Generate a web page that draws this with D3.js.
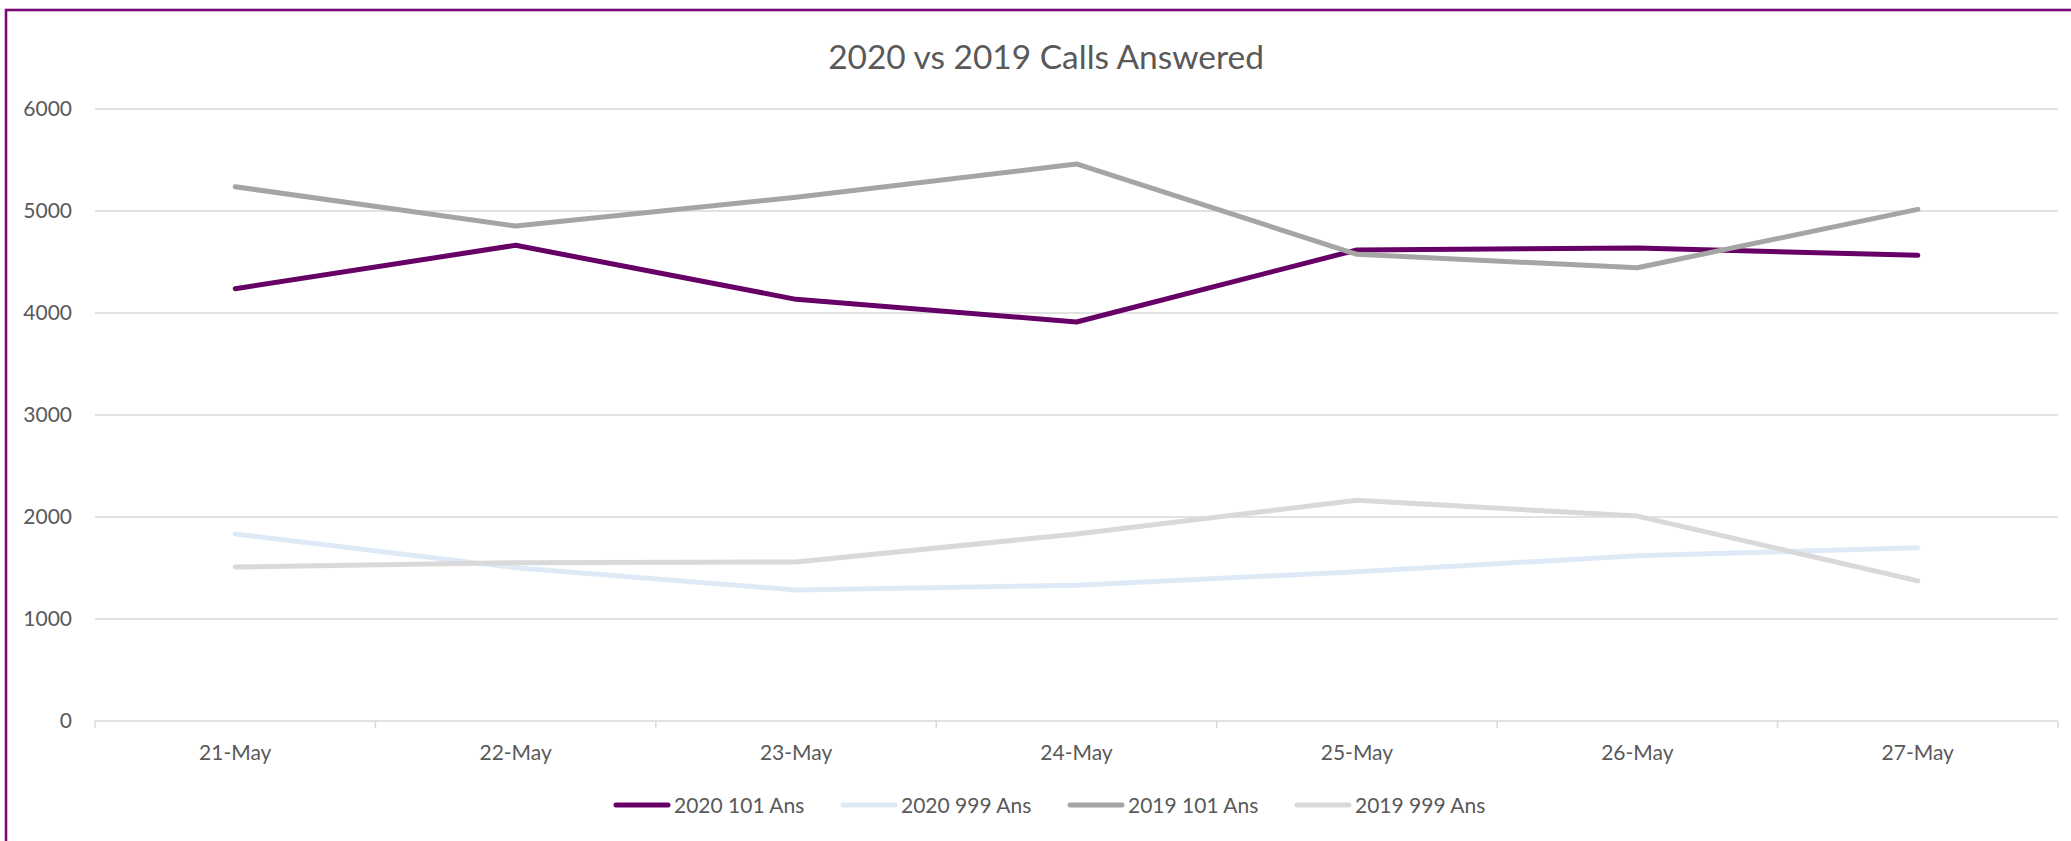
<!DOCTYPE html>
<html>
<head>
<meta charset="utf-8">
<script src="https://cdn.jsdelivr.net/npm/d3@7"></script>
<style>
  html, body { margin: 0; padding: 0; background: #ffffff; overflow: hidden; }
  svg { display: block; }
  text { font-family: Lato, "Open Sans", sans-serif; fill: #595959; }
</style>
</head>
<body>
<svg id="chart" width="2071" height="841"></svg>
<script>
// ---- Data ----
const categories = ["21-May", "22-May", "23-May", "24-May", "25-May", "26-May", "27-May"];
const seriesNames = ["2020 101 Ans", "2020 999 Ans", "2019 101 Ans", "2019 999 Ans"];
const values2020_101 = [4238, 4664, 4134, 3912, 4618, 4637, 4565];
const values2020_999 = [1833, 1503, 1284, 1330, 1464, 1620, 1698];
const values2019_101 = [5238, 4853, 5135, 5461, 4575, 4444, 5016];
const values2019_999 = [1510, 1552, 1559, 1833, 2164, 2009, 1374];
const yTicks = [0, 1000, 2000, 3000, 4000, 5000, 6000];
const seriesColors = ["#660066", "#DEEBF7", "#A5A5A5", "#D9D9D9"];
const title = "2020 vs 2019 Calls Answered";

const seriesValues = [values2020_101, values2020_999, values2019_101, values2019_999];
const series = seriesNames.map((name, i) => ({ name, color: seriesColors[i], values: seriesValues[i] }));

// ---- Layout ----
const svg = d3.select("#chart");
const plot = { left: 95, right: 2058, top: 109, bottom: 721 };

// Border (chart area outline)
svg.append("rect")
  .attr("x", 6).attr("y", 10)
  .attr("width", 2200).attr("height", 1000)
  .attr("fill", "none")
  .attr("stroke", "#7a0a78")
  .attr("stroke-width", 2.6);

const x = d3.scaleBand().domain(categories).range([plot.left, plot.right]).paddingInner(0).paddingOuter(0);
const y = d3.scaleLinear().domain([0, 6000]).range([plot.bottom, plot.top]);

// Gridlines
svg.append("g")
  .selectAll("line")
  .data(yTicks.filter(d => d !== 0))
  .join("line")
  .attr("x1", plot.left).attr("x2", plot.right)
  .attr("y1", d => y(d)).attr("y2", d => y(d))
  .attr("stroke", "#D9D9D9").attr("stroke-width", 1.5);

// Y axis labels
const yAxis = d3.axisLeft(y).tickValues(yTicks).tickFormat(d3.format("d")).tickSize(0).tickPadding(23);
const gy = svg.append("g").attr("transform", `translate(${plot.left},0)`).call(yAxis);
gy.select(".domain").remove();
gy.selectAll("text")
  .attr("font-family", "Lato, sans-serif")
  .attr("font-size", 21)
  .attr("fill", "#595959");

// X axis with tick marks at band boundaries
const gx = svg.append("g").attr("transform", `translate(0,${plot.bottom})`);
gx.append("line")
  .attr("x1", plot.left).attr("x2", plot.right)
  .attr("y1", 0).attr("y2", 0)
  .attr("stroke", "#D9D9D9").attr("stroke-width", 1.5);
const boundaries = categories.map(c => x(c)).concat([plot.right]);
gx.selectAll("line.tick")
  .data(boundaries)
  .join("line")
  .attr("class", "tick")
  .attr("x1", d => d).attr("x2", d => d)
  .attr("y1", 0).attr("y2", 7)
  .attr("stroke", "#D9D9D9").attr("stroke-width", 1.5);
gx.selectAll("text")
  .data(categories)
  .join("text")
  .attr("x", d => x(d) + x.bandwidth() / 2)
  .attr("y", 39)
  .attr("text-anchor", "middle")
  .attr("font-size", 21)
  .text(d => d);

// Lines
const line = d3.line()
  .x((d, i) => x(categories[i]) + x.bandwidth() / 2)
  .y(d => y(d));

svg.append("g")
  .selectAll("path")
  .data(series)
  .join("path")
  .attr("d", d => line(d.values))
  .attr("fill", "none")
  .attr("stroke", d => d.color)
  .attr("stroke-width", 5)
  .attr("stroke-linecap", "round")
  .attr("stroke-linejoin", "round");

// Title
const t = svg.append("text")
  .attr("x", 1046).attr("y", 69)
  .attr("text-anchor", "middle")
  .attr("font-size", 32)
  .text(title);
const tw = t.node().getComputedTextLength();
t.attr("font-size", 32 * 436 / tw);

// Legend
const legendStart = 615;
const legendStep = 227;
const legendY = 805;
const lg = svg.append("g").selectAll("g")
  .data(series)
  .join("g")
  .attr("transform", (d, i) => `translate(${legendStart + i * legendStep},${legendY})`);
lg.append("line")
  .attr("x1", 1).attr("x2", 53)
  .attr("y1", 0).attr("y2", 0)
  .attr("stroke", d => d.color)
  .attr("stroke-width", 5)
  .attr("stroke-linecap", "round");
lg.append("text")
  .attr("x", 59).attr("y", 7.5)
  .attr("font-size", 21)
  .text(d => d.name);
</script>
</body>
</html>
